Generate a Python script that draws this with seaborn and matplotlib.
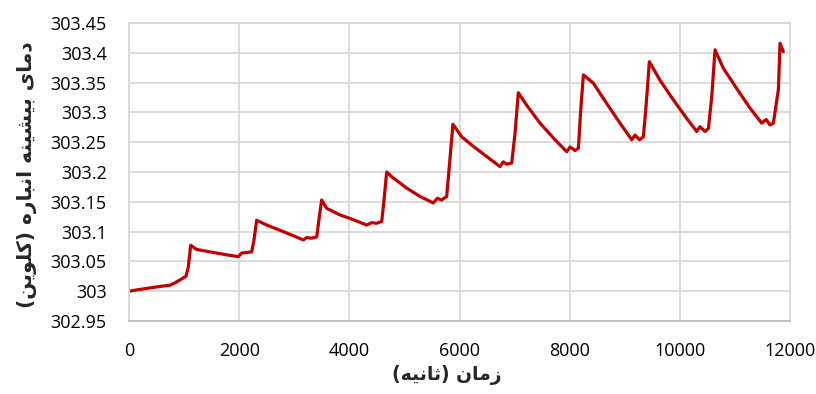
import matplotlib
matplotlib.use("Agg")
import matplotlib.pyplot as plt
import seaborn as sns
import pandas as pd

# ---- data ----
time_s = [0, 200, 563, 744, 835, 926, 1035, 1077, 1120,
          1229, 1471, 1773, 1985, 2046, 2227, 2269, 2318,
          2500, 2801, 3165, 3226, 3317, 3408, 3455, 3498,
          3589, 3831, 4073, 4316, 4406, 4497, 4588, 4630, 4678,
          4769, 5041, 5283, 5525, 5598, 5676, 5767, 5815, 5880,
          6040, 6251, 6493, 6736, 6796, 6857, 6948, 7008, 7068,
          7220, 7462, 7704, 7947, 8007, 8098, 8158, 8201, 8249,
          8430, 8672, 8914, 9126, 9187, 9266, 9338, 9386, 9447,
          9640, 9882, 10124, 10307, 10367, 10458, 10519, 10579, 10639,
          10790, 11033, 11275, 11486, 11565, 11638, 11698, 11789, 11819, 11879]
temp_k = [303.000, 303.003, 303.008, 303.010, 303.014, 303.019, 303.025, 303.041, 303.077,
          303.070, 303.066, 303.061, 303.058, 303.064, 303.066, 303.086, 303.119,
          303.111, 303.100, 303.086, 303.090, 303.089, 303.091, 303.125, 303.153,
          303.139, 303.128, 303.120, 303.111, 303.115, 303.114, 303.117, 303.153, 303.200,
          303.192, 303.173, 303.159, 303.148, 303.156, 303.153, 303.159, 303.209, 303.280,
          303.259, 303.243, 303.226, 303.209, 303.217, 303.213, 303.215, 303.265, 303.333,
          303.312, 303.282, 303.257, 303.234, 303.242, 303.236, 303.240, 303.304, 303.363,
          303.349, 303.315, 303.282, 303.254, 303.262, 303.254, 303.259, 303.310, 303.385,
          303.354, 303.321, 303.290, 303.268, 303.276, 303.268, 303.273, 303.326, 303.405,
          303.374, 303.340, 303.307, 303.282, 303.288, 303.279, 303.282, 303.338, 303.416, 303.402]
x_ticks = [0, 2000, 4000, 6000, 8000, 10000, 12000]
y_ticks = [302.95, 303.0, 303.05, 303.1, 303.15, 303.2, 303.25, 303.3, 303.35, 303.4, 303.45]
y_tick_labels = ["302.95", "303", "303.05", "303.1", "303.15", "303.2",
                 "303.25", "303.3", "303.35", "303.4", "303.45"]
x_label = "زمان (ثانیه)"
y_label = "دمای بیشینه انباره (کلوین)"

# ---- minimal Persian shaping (matplotlib has no complex text layout) ----
FORMS = {  # isolated, final, initial, medial
    "\u0627": ("\uFE8D", "\uFE8E", None, None),
    "\u0628": ("\uFE8F", "\uFE90", "\uFE91", "\uFE92"),
    "\u062A": ("\uFE95", "\uFE96", "\uFE97", "\uFE98"),
    "\u062B": ("\uFE99", "\uFE9A", "\uFE9B", "\uFE9C"),
    "\u062F": ("\uFEA9", "\uFEAA", None, None),
    "\u0631": ("\uFEAD", "\uFEAE", None, None),
    "\u0632": ("\uFEAF", "\uFEB0", None, None),
    "\u0634": ("\uFEB5", "\uFEB6", "\uFEB7", "\uFEB8"),
    "\u0644": ("\uFEDD", "\uFEDE", "\uFEDF", "\uFEE0"),
    "\u0645": ("\uFEE1", "\uFEE2", "\uFEE3", "\uFEE4"),
    "\u0646": ("\uFEE5", "\uFEE6", "\uFEE7", "\uFEE8"),
    "\u0647": ("\uFEE9", "\uFEEA", "\uFEEB", "\uFEEC"),
    "\u0648": ("\uFEED", "\uFEEE", None, None),
    "\u06CC": ("\uFBFC", "\uFBFD", "\uFBFE", "\uFBFF"),
    "\u06A9": ("\uFB8E", "\uFB8F", "\uFB90", "\uFB91"),
}


def shape_rtl(text):
    chars = list(text)
    out = []
    for i, c in enumerate(chars):
        if c not in FORMS:
            out.append(c)
            continue
        prev = chars[i - 1] if i > 0 else None
        nxt = chars[i + 1] if i + 1 < len(chars) else None
        joins_prev = prev in FORMS and FORMS[prev][2] is not None
        joins_next = nxt in FORMS and FORMS[c][2] is not None
        iso, fin, ini, med = FORMS[c]
        if joins_prev and joins_next:
            out.append(med)
        elif joins_prev:
            out.append(fin)
        elif joins_next:
            out.append(ini)
        else:
            out.append(iso)
    vis = "".join(reversed(out))
    vis = vis.translate(str.maketrans("()", ")("))
    return vis


df = pd.DataFrame({"time": time_s, "temp": temp_k})

sns.set_theme(style="whitegrid")
plt.rcParams["font.family"] = ["Open Sans", "DejaVu Sans"]

fig = plt.figure(figsize=(8.16, 3.94), dpi=100)
ax = fig.add_axes([129 / 816, 1 - 321 / 394, (790 - 129) / 816, (321 - 23) / 394])

sns.lineplot(data=df, x="time", y="temp", ax=ax, color="#C00000", linewidth=2.3)

ax.set_xlim(0, 12000)
ax.set_ylim(302.95, 303.45)
ax.set_xticks(x_ticks)
ax.set_xticklabels([str(t) for t in x_ticks])
ax.set_yticks(y_ticks)
ax.set_yticklabels(y_tick_labels)
ax.grid(True, color="#D9D9D9", linewidth=1.3)
ax.set_axisbelow(True)
for side in ["top", "right", "left"]:
    ax.spines[side].set_color("#D9D9D9")
    ax.spines[side].set_linewidth(1.3)
ax.spines["bottom"].set_color("#BFBFBF")
ax.spines["bottom"].set_linewidth(1.3)
ax.tick_params(axis="both", length=0, labelsize=13, colors="#000000")
ax.tick_params(axis="x", pad=15)
ax.tick_params(axis="y", pad=16)

ax.set_xlabel(shape_rtl(x_label), fontsize=13.5, fontweight="bold",
              family=["DejaVu Sans"])
ax.set_ylabel(shape_rtl(y_label), fontsize=14.5, fontweight="bold",
              family=["DejaVu Sans"])
ax.xaxis.set_label_coords(0.481, -0.148)
ax.yaxis.set_label_coords(-0.139, 0.49)

fig.savefig("out.png", dpi=100, facecolor="white")
